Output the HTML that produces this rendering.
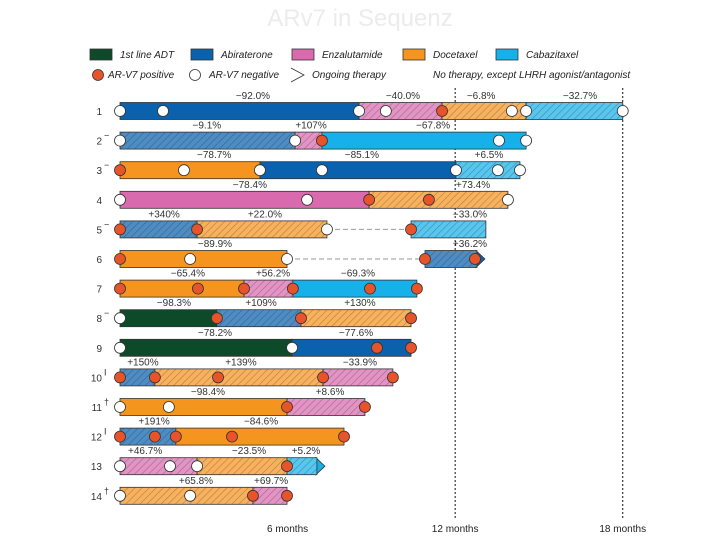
<!DOCTYPE html>
<html><head><meta charset="utf-8"><style>
html,body{margin:0;padding:0;background:#fff;}
svg{display:block;font-family:"Liberation Sans",sans-serif;}
</style></head><body>
<svg id="chart" width="720" height="540" viewBox="0 0 720 540">
<defs>
<pattern id="hatch" width="5" height="5" patternUnits="userSpaceOnUse" patternTransform="rotate(45)">
<rect width="5" height="5" fill="rgba(255,255,255,0.28)"/>
<line x1="0" y1="0" x2="0" y2="5" stroke="rgba(0,0,0,0.25)" stroke-width="1.4"/>
</pattern>
</defs>
<text x="360" y="26" text-anchor="middle" font-size="24" fill="#ececec">ARv7 in Sequenz</text>
<g id="legend"></g>
<g id="plot"></g>
</svg>
<script>
const drugNames = ["1st line ADT","Abiraterone","Enzalutamide","Docetaxel","Cabazitaxel"];
const drugColors = ["#0d4a2a","#0a61ad","#d96aae","#f5941f","#16b1ea"];
const rowNames = ["1","2","3","4","5","6","7","8","9","10","11","12","13","14"];
const rowMarks = ["","−","−","","−","","","−","","I","†","I","","†"];
const axisMonths = [6,12,18];
const axisLabels = ["6 months","12 months","18 months"];
// segments: row, drug, start month, end month, hatched
const segRow   = [0,0,0,0, 1,1,1, 2,2,2, 3,3, 4,4,4, 5,5, 6,6,6, 7,7,7, 8,8, 9,9,9, 10,10, 11,11, 12,12,12, 13,13];
const segDrug  = [1,2,3,4, 1,2,4, 3,1,4, 2,3, 1,3,4, 3,1, 3,2,4, 0,1,3, 0,1, 1,3,2, 3,2, 1,3, 2,3,4, 3,2];
const segStart = [0,8.56,11.53,14.54, 0,6.27,7.23, 0,5.01,12.03, 0,8.92, 0,2.76,10.42, 0,10.92, 0,4.44,6.19, 0,3.47,6.48, 0,6.16, 0,1.25,7.27, 0,5.98, 0,2.0, 0,2.76,5.98, 0,4.76];
const segEnd   = [8.56,11.53,14.54,18.0, 6.27,7.23,14.54, 5.01,12.03,14.32, 8.92,13.89, 2.76,7.41,13.10, 5.98,12.78, 4.44,6.19,10.63, 3.47,6.48,10.42, 6.16,10.42, 1.25,7.27,9.77, 5.98,8.77, 2.0,8.02, 2.76,5.98,7.05, 4.76,5.98];
const segHatch = [0,1,1,1, 1,1,0, 0,0,1, 0,1, 1,1,1, 0,1, 0,1,0, 0,1,1, 0,0, 1,1,1, 0,1, 1,0, 1,1,1, 1,1];
const ongoingRow = [5,12];
const ongoingEnd = [12.78,7.05];
const ongoingDrug = [1,4];
const gapRow = [4,5];
const gapStart = [7.41,5.98];
const gapEnd = [10.42,10.92];
// circles: row, month, positive(1)/negative(0)
const circRow  = [0,0,0,0,0,0,0,0, 1,1,1,1,1, 2,2,2,2,2,2,2, 3,3,3,3,3, 4,4,4,4, 5,5,5,5,5, 6,6,6,6,6,6, 7,7,7,7, 8,8,8,8, 9,9,9,9,9, 10,10,10,10, 11,11,11,11,11, 12,12,12,12, 13,13,13,13];
const circTime = [0,1.54,8.56,9.52,11.53,14.03,14.54,18.0, 0,6.27,7.23,13.57,14.54, 0,2.29,5.01,7.23,12.03,13.53,14.32, 0,6.70,8.92,11.06,13.89, 0,2.76,7.41,10.42, 0,2.51,5.98,10.92,12.71, 0,2.79,4.44,6.19,8.95,10.63, 0,3.47,6.48,10.42, 0,6.16,9.20,10.42, 0,1.25,3.51,7.27,9.77, 0,1.75,5.98,8.77, 0,1.25,2.0,4.01,8.02, 0,1.79,2.76,5.98, 0,2.51,4.76,5.98];
const circPos  = [0,0,0,0,1,0,0,0, 0,0,1,0,0, 1,0,0,0,0,0,0, 0,0,1,1,0, 1,1,0,1, 1,0,0,1,1, 1,1,1,1,1,1, 0,1,1,1, 0,0,1,1, 1,1,1,1,1, 0,0,1,1, 1,1,1,1,1, 0,0,0,1, 0,0,1,1];
// response labels: row, month, text
const labRow  = [0,0,0,0, 1,1,1, 2,2,2, 3,3, 4,4,4, 5,5, 6,6,6, 7,7,7, 8,8, 9,9,9, 10,10, 11,11, 12,12,12, 13,13];
const labTime = [4.76,10.13,12.93,16.47, 3.11,6.84,11.21, 3.37,8.66,13.21, 4.65,12.64, 1.58,5.19,12.53, 3.40,12.53, 2.43,5.48,8.52, 1.93,5.05,8.59, 3.40,8.45, 0.82,4.33,8.59, 3.15,7.52, 1.22,5.05, 0.90,4.62,6.66, 2.72,5.41];
const labText = ["−92.0%","−40.0%","−6.8%","−32.7%","−9.1%","+107%","−67.8%","−78.7%","−85.1%","+6.5%","−78.4%","+73.4%","+340%","+22.0%","−33.0%","−89.9%","+36.2%","−65.4%","+56.2%","−69.3%","−98.3%","+109%","+130%","−78.2%","−77.6%","+150%","+139%","−33.9%","−98.4%","+8.6%","+191%","−84.6%","+46.7%","−23.5%","+5.2%","+65.8%","+69.7%"];

const NS="http://www.w3.org/2000/svg";
const x0=120, pxPerMonth=27.93, y0=111, rowStep=29.6, barH=17;
const xs=m=>x0+m*pxPerMonth;
const ys=r=>y0+r*rowStep;
const plot=document.getElementById('plot');
const legend=document.getElementById('legend');
function mk(tag,attrs,parent){const e=document.createElementNS(NS,tag);for(const k in attrs)e.setAttribute(k,attrs[k]);parent.appendChild(e);return e;}

// reference lines
axisMonths.forEach((m,i)=>{
  if(m>6){
    const l=mk('line',{x1:xs(m),x2:xs(m),y1:88,y2:518,stroke:'#111','stroke-width':1,'stroke-dasharray':'2,2'},plot);
    
    
  }
  const t=mk('text',{x:xs(m),y:532,'text-anchor':'middle','font-size':10,fill:'#222'},plot);
  t.textContent=axisLabels[i];
  
  
});

// row labels
rowNames.forEach((n,r)=>{
  const t=mk('text',{x:102,y:ys(r)+4,'text-anchor':'end','font-size':10,fill:'#333'},plot);
  t.textContent=n;
  
  
  if(rowMarks[r]){
    const s=mk('text',{x:104,y:ys(r)-2,'font-size':9,fill:'#333'},plot);
    s.textContent=rowMarks[r];
    
    
  }
});

// gaps
gapRow.forEach((r,i)=>{
  const l=mk('line',{x1:xs(gapStart[i]),x2:xs(gapEnd[i]),y1:ys(r),y2:ys(r),stroke:'#999','stroke-width':1,'stroke-dasharray':'5,3'},plot);
  
  
});

// ongoing arrows
ongoingRow.forEach((r,i)=>{
  const xe=xs(ongoingEnd[i]),y=ys(r);
  const p=mk('polygon',{points:`${xe-1},${y-barH/2} ${xe+8},${y} ${xe-1},${y+barH/2}`,fill:drugColors[ongoingDrug[i]],stroke:'#333','stroke-width':0.8},plot);
  
  
});

// segments
segRow.forEach((r,i)=>{
  const x=xs(segStart[i]),w=xs(segEnd[i])-x,y=ys(r)-barH/2;
  const g=mk('g',{},plot);
  
  
  mk('rect',{x:x,y:y,width:w,height:barH,fill:drugColors[segDrug[i]]},g);
  if(segHatch[i]) mk('rect',{x:x,y:y,width:w,height:barH,fill:'url(#hatch)'},g);
  mk('rect',{x:x,y:y,width:w,height:barH,fill:'none',stroke:'#333','stroke-width':0.8},g);
});

// circles
circRow.forEach((r,i)=>{
  const c=mk('circle',{cx:xs(circTime[i]),cy:ys(r),r:5.5,fill:circPos[i]?'#e8542a':'#fff',stroke:'#333','stroke-width':0.8},plot);
  
  
});

// response labels
labRow.forEach((r,i)=>{
  const t=mk('text',{x:xs(labTime[i]),y:ys(r)-12,'text-anchor':'middle','font-size':10,fill:'#333'},plot);
  t.textContent=labText[i];
  
  
});

// legend
const legSwX=[90,191,292,403,496];
drugNames.forEach((n,i)=>{
  const r=mk('rect',{x:legSwX[i],y:49,width:22,height:11,fill:drugColors[i],stroke:'#333','stroke-width':0.8},legend);
  
  
  const t=mk('text',{x:legSwX[i]+30,y:58,'font-size':10,'font-style':'italic',fill:'#222'},legend);
  t.textContent=n;
  
  
});
const c1=mk('circle',{cx:98,cy:75,r:5.5,fill:'#e8542a',stroke:'#333','stroke-width':0.8},legend);


const c2=mk('circle',{cx:195,cy:75,r:5.5,fill:'#fff',stroke:'#333','stroke-width':0.8},legend);


const tri=mk('polyline',{points:'291,68 304,75 291,82',fill:'none',stroke:'#333','stroke-width':0.8},legend);


const legTexts=[[108,"AR-V7 positive"],[209,"AR-V7 negative"],[312,"Ongoing therapy"],[433,"No therapy, except LHRH agonist/antagonist"]];
legTexts.forEach(([x,s])=>{
  const t=mk('text',{x:x,y:78,'font-size':10,'font-style':'italic',fill:'#222'},legend);
  t.textContent=s;
  
  
});
</script>
</body></html>
